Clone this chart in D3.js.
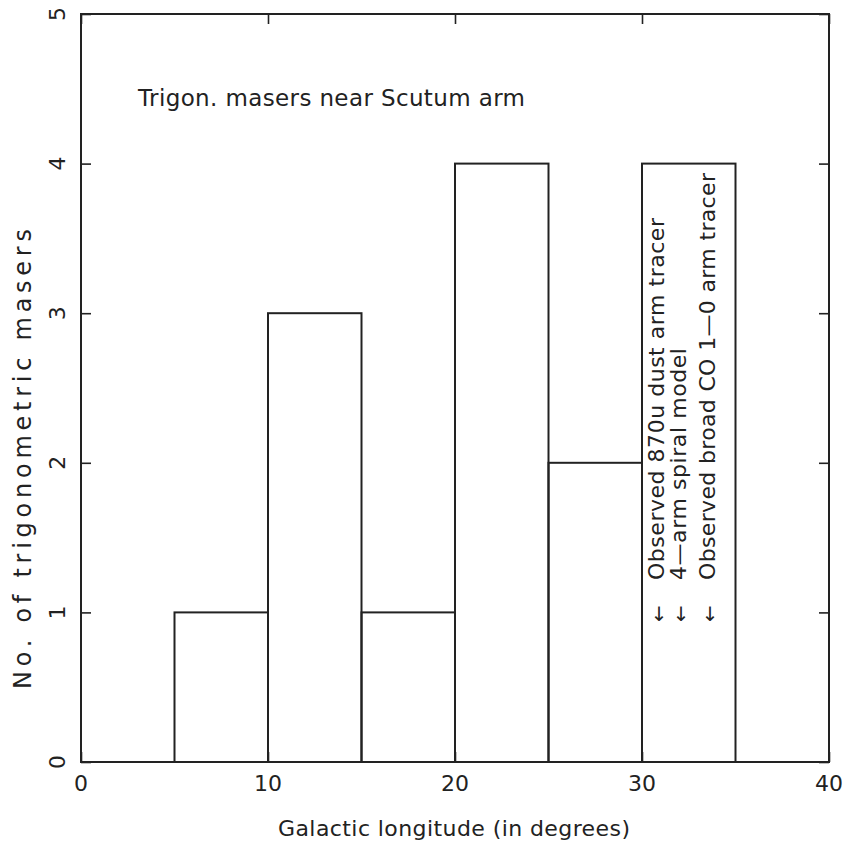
<!DOCTYPE html>
<html><head><meta charset="utf-8">
<script src="https://cdn.jsdelivr.net/npm/d3@7"></script>
<style>body{margin:0;background:#fff}svg{display:block}text{font-family:"DejaVu Sans",sans-serif;fill:#222}</style>
</head><body>
<script>
const binStarts = [5, 10, 15, 20, 25, 30];
const binWidth = 5;
const counts = [1, 3, 1, 4, 2, 4];
const xTicks = [0, 10, 20, 30, 40];
const yTicks = [0, 1, 2, 3, 4, 5];
const titleText = "Trigon. masers near Scutum arm";
const xLabel = "Galactic longitude (in degrees)";
const yLabel = "No. of trigonometric masers";
const legendLines = ["Observed 870u dust arm tracer", "4\u2014arm spiral model", "Observed broad CO 1\u20140 arm tracer"];

const W = 849, H = 848;
const svg = d3.select("body").append("svg").attr("width", W).attr("height", H);
const x = d3.scaleLinear().domain([0, 40]).range([81, 829]);
const y = d3.scaleLinear().domain([0, 5]).range([762, 14]);
const ink = "#222";

// bars
svg.append("g").selectAll("rect").data(binStarts).join("rect")
  .attr("x", d => x(d)).attr("width", d => x(d + binWidth) - x(d))
  .attr("y", (d, i) => y(counts[i])).attr("height", (d, i) => y(0) - y(counts[i]))
  .attr("fill", "none").attr("stroke", ink).attr("stroke-width", 2);

// axes with inward ticks
function ticksAxis(axisFn, scale, tf, major, minor) {
  const g = svg.append("g").attr("transform", tf);
  g.call(axisFn(scale).tickValues(minor).tickSize(5).tickFormat(""));
  g.call(axisFn(scale).tickValues(major).tickSize(10).tickFormat(""));
  g.selectAll("path.domain").remove();
  g.selectAll("line").attr("stroke", ink).attr("stroke-width", 1.6);
  return g;
}
const xMinor = d3.range(0, 40.01, 2), yMinor = d3.range(0, 5.001, 0.2);
ticksAxis(d3.axisTop, x, `translate(0,${y(0)})`, xTicks, xMinor);
ticksAxis(d3.axisBottom, x, `translate(0,${y(5)})`, xTicks, xMinor);
ticksAxis(d3.axisRight, y, `translate(${x(0)},0)`, yTicks, yMinor);
ticksAxis(d3.axisLeft, y, `translate(${x(40)},0)`, yTicks, yMinor);
svg.append("rect").attr("x", x(0)).attr("y", y(5)).attr("width", x(40) - x(0)).attr("height", y(0) - y(5))
  .attr("fill", "none").attr("stroke", ink).attr("stroke-width", 2);

// tick labels
svg.append("g").selectAll("text").data(xTicks).join("text")
  .attr("x", d => x(d)).attr("y", y(0) + 29).attr("text-anchor", "middle")
  .attr("font-size", 22).text(d => d);
svg.append("g").selectAll("text").data(yTicks).join("text")
  .attr("transform", d => `translate(${x(0) - 16},${y(d)}) rotate(-90)`)
  .attr("text-anchor", "middle").attr("font-size", 22).text(d => d);

// titles
svg.append("text").attr("x", 138).attr("y", 106).attr("font-size", 23)
  .attr("textLength", 387).attr("lengthAdjust", "spacing").text(titleText);
svg.append("text").attr("x", 278).attr("y", 836).attr("font-size", 22)
  .attr("textLength", 352).attr("lengthAdjust", "spacing").text(xLabel);
svg.append("text").attr("transform", `translate(31,689) rotate(-90)`)
  .attr("font-size", 24).attr("textLength", 460).attr("lengthAdjust", "spacing").text(yLabel);

// legend inside last bar
const legX = [664, 686, 715];
const legLen = [362, 232, 407];
legendLines.forEach((t, i) => {
  svg.append("text").attr("transform", `translate(${legX[i]},580) rotate(-90)`)
    .attr("font-size", 22).attr("textLength", legLen[i]).attr("lengthAdjust", "spacing").text(t);
  svg.append("text").attr("transform", `translate(${legX[i] - 5},621)`)
    .attr("text-anchor", "middle").attr("font-size", 20).text("\u2193");
});
</script>
</body></html>
